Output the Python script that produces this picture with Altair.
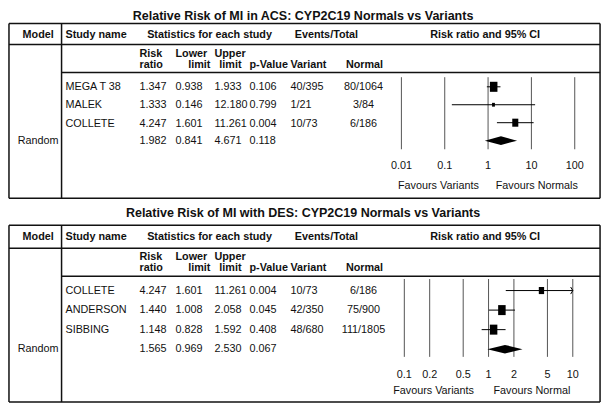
import altair as alt
import pandas as pd

# ---------------- data ----------------
acs_title = "Relative Risk of MI in ACS: CYP2C19 Normals vs Variants"
acs_studies = ["MEGA T 38", "MALEK", "COLLETE"]
acs_rr = [1.347, 1.333, 4.247]
acs_lower = [0.938, 0.146, 1.601]
acs_upper = [1.933, 12.180, 11.261]
acs_p = [0.106, 0.799, 0.004]
acs_variant = ["40/395", "1/21", "10/73"]
acs_normal = ["80/1064", "3/84", "6/186"]
acs_weight = [56, 8, 36]
acs_summary = [1.982, 0.841, 4.671, 0.118]
acs_ticks = [0.01, 0.1, 1, 10, 100]
acs_tick_labels = ["0.01", "0.1", "1", "10", "100"]
acs_favours = ["Favours Variants", "Favours Normals"]

des_title = "Relative Risk of MI with DES: CYP2C19 Normals vs Variants"
des_studies = ["COLLETE", "ANDERSON", "SIBBING"]
des_rr = [4.247, 1.440, 1.148]
des_lower = [1.601, 1.008, 0.828]
des_upper = [11.261, 2.058, 1.592]
des_p = [0.004, 0.045, 0.408]
des_variant = ["10/73", "42/350", "48/680"]
des_normal = ["6/186", "75/900", "111/1805"]
des_weight = [20, 40, 40]
des_summary = [1.565, 0.969, 2.530, 0.067]
des_ticks = [0.1, 0.2, 0.5, 1, 2, 5, 10]
des_tick_labels = ["0.1", "0.2", "0.5", "1", "2", "5", "10"]
des_favours = ["Favours Variants", "Favours Normal"]

model_name = "Random"
header = ["Model", "Study name", "Statistics for each study", "Events/Total", "Risk ratio and 95% CI"]

# ---------------- layout ----------------
W, H = 594, 395
KX, KY = W / 610, H / 411
FONT = "Liberation Sans"
INK = "#111"
PX_X = alt.Scale(domain=[0, 610], range=[0, W])
PX_Y = alt.Scale(domain=[0, 411], range=[0, H])

COL = dict(model=31, study=59, rr=135, lo=172, up=212, p=248, var=290, norm=365,
           stats=207, events=327, ci=490, left=1, right=608, div=55)

TOP = dict(title=8, box_top=16, hdr=28, hdr_line=38, sub1=48, sub2=59, sub_line=67,
           rows=[82, 101, 121, 138], box_bottom=198, grid=(72, 147), tick_y=164, fav_y=185,
           fx=(404, 582), fav_x=(442, 543), box_k=1.8, dh=0.24)
BOT = dict(title=213, box_top=226, hdr=238, hdr_line=250, sub1=259, sub2=271, sub_line=279,
           rows=[294, 314, 335, 355], box_bottom=410, grid=(282, 363), tick_y=382, fav_y=399,
           fx=(407, 580), fav_x=(437, 538), box_k=2.5, dh=0.22)

RECT = "M-0.75,-1L0.75,-1L0.75,1L-0.75,1Z"
CHEVRON = "M-0.6,-1L0,0L-0.6,1"
BODY = 10.8
BOLD = 10.8


def text_layer(rows, align="left", bold=False, size=BODY):
    df = pd.DataFrame(rows, columns=["t", "x", "y"])
    return alt.Chart(df).mark_text(
        align=align, baseline="middle", font=FONT, fontSize=size,
        fontWeight="bold" if bold else "normal", color=INK
    ).encode(
        x=alt.X("x:Q", scale=PX_X, axis=None),
        y=alt.Y("y:Q", scale=PX_Y, axis=None),
        text="t:N",
    )


def panel(L, title, studies, rr, lo, up, p, var, norm, weight, summary, ticks, tick_labels,
          favours, domain):
    layers = []
    seg = [
        (COL["left"], COL["right"], L["box_top"], L["box_top"]),
        (COL["left"], COL["right"], L["box_bottom"], L["box_bottom"]),
        (COL["left"], COL["left"], L["box_top"], L["box_bottom"]),
        (COL["right"], COL["right"], L["box_top"], L["box_bottom"]),
        (COL["div"], COL["div"], L["box_top"], L["box_bottom"]),
        (COL["left"], COL["right"], L["hdr_line"], L["hdr_line"]),
        (COL["div"], COL["right"], L["sub_line"], L["sub_line"]),
    ]
    sdf = pd.DataFrame(seg, columns=["x", "x2", "y", "y2"])
    layers.append(alt.Chart(sdf).mark_rule(color=INK, strokeWidth=1.5).encode(
        x=alt.X("x:Q", scale=PX_X, axis=None), x2="x2:Q",
        y=alt.Y("y:Q", scale=PX_Y, axis=None), y2="y2:Q"))

    layers.append(text_layer([(title, 303, L["title"])], "center", True, 12.5))
    layers.append(text_layer([
        (header[0], COL["model"], L["hdr"]),
        (header[2], COL["stats"], L["hdr"]),
        (header[3], COL["events"], L["hdr"]),
        (header[4], COL["ci"], L["hdr"]),
    ], "center", True, BOLD))
    layers.append(text_layer([
        (header[1], COL["study"], L["hdr"]),
        ("Risk", COL["rr"], L["sub1"]), ("ratio", COL["rr"], L["sub2"]),
        ("Lower", 172, L["sub1"]), ("limit", 185, L["sub2"]),
        ("Upper", 212, L["sub1"]), ("limit", 217, L["sub2"]),
        ("p-Value", COL["p"], L["sub2"]),
        ("Variant", 290, L["sub2"]), ("Normal", 347, L["sub2"]),
    ], "left", True, BOLD))

    body = []
    for i in range(3):
        y = L["rows"][i]
        body += [(studies[i], COL["study"], y),
                 (f"{rr[i]:.3f}", COL["rr"], y), (f"{lo[i]:.3f}", COL["lo"], y),
                 (f"{up[i]:.3f}", COL["up"], y), (f"{p[i]:.3f}", COL["p"], y),
                 (var[i], COL["var"], y)]
    ys = L["rows"][3]
    body += [(f"{summary[0]:.3f}", COL["rr"], ys), (f"{summary[1]:.3f}", COL["lo"], ys),
             (f"{summary[2]:.3f}", COL["up"], ys), (f"{summary[3]:.3f}", COL["p"], ys)]
    layers.append(text_layer(body, "left", False))
    cen = [(norm[i], COL["norm"], L["rows"][i]) for i in range(3)]
    cen += [(model_name, COL["model"], ys),
            (favours[0], L["fav_x"][0], L["fav_y"]), (favours[1], L["fav_x"][1], L["fav_y"])]
    layers.append(text_layer(cen, "center", False))

    FX = alt.Scale(type="log", domain=domain, range=[L["fx"][0] * KX, L["fx"][1] * KX], clamp=True)
    FY = alt.Scale(domain=[0, 3], range=[L["rows"][0] * KY, L["rows"][3] * KY])

    tdf = pd.DataFrame({"tick": ticks, "label": tick_labels})
    layers.append(alt.Chart(tdf).mark_rule(color="#555", strokeWidth=1).encode(
        x=alt.X("tick:Q", scale=FX, axis=None),
        y=alt.value(L["grid"][0] * KY), y2=alt.value(L["grid"][1] * KY)))
    layers.append(alt.Chart(tdf).mark_text(font=FONT, fontSize=BODY, color=INK, baseline="middle").encode(
        x=alt.X("tick:Q", scale=FX, axis=None),
        y=alt.value(L["tick_y"] * KY), text="label:N"))

    st = pd.DataFrame({"row": [0, 1, 2], "rr": rr, "lo": lo, "up": up, "w": weight})
    layers.append(alt.Chart(st).mark_rule(color="#000", strokeWidth=1).encode(
        x=alt.X("lo:Q", scale=FX, axis=None), x2="up:Q",
        y=alt.Y("row:Q", scale=FY, axis=None)))
    layers.append(alt.Chart(st).mark_point(shape=RECT, filled=True, color="#000", opacity=1).encode(
        x=alt.X("rr:Q", scale=FX, axis=None),
        y=alt.Y("row:Q", scale=FY, axis=None),
        size=alt.Size("w:Q", scale=alt.Scale(domain=[0, 100], range=[0, 100 * L["box_k"]]), legend=None)))
    arrows = st[st["up"] > domain[1]]
    if len(arrows):
        layers.append(alt.Chart(arrows).mark_point(shape=CHEVRON, filled=False, color="#000",
                                                   size=50, strokeWidth=1, opacity=1).encode(
            x=alt.X("up:Q", scale=FX, axis=None),
            y=alt.Y("row:Q", scale=FY, axis=None)))

    dh = L["dh"]
    dd = pd.DataFrame({"x": [summary[1], summary[0], summary[2]],
                       "y": [3, 3 - dh, 3], "y2": [3, 3 + dh, 3]})
    layers.append(alt.Chart(dd).mark_area(color="#000", opacity=1).encode(
        x=alt.X("x:Q", scale=FX, axis=None),
        y=alt.Y("y:Q", scale=FY, axis=None), y2="y2:Q"))
    return layers


layers = []
layers += panel(TOP, acs_title, acs_studies, acs_rr, acs_lower, acs_upper, acs_p, acs_variant,
                acs_normal, acs_weight, acs_summary, acs_ticks, acs_tick_labels, acs_favours, [0.01, 100])
layers += panel(BOT, des_title, des_studies, des_rr, des_lower, des_upper, des_p, des_variant,
                des_normal, des_weight, des_summary, des_ticks, des_tick_labels, des_favours, [0.1, 10])

chart = alt.layer(*layers).resolve_scale(
    x="independent", y="independent", size="independent"
).properties(
    width=W, height=H, autosize=alt.AutoSizeParams(type="none"), padding=0
).configure_view(stroke=None)

chart.save("out.html", embed_options={"renderer": "svg", "actions": False})
